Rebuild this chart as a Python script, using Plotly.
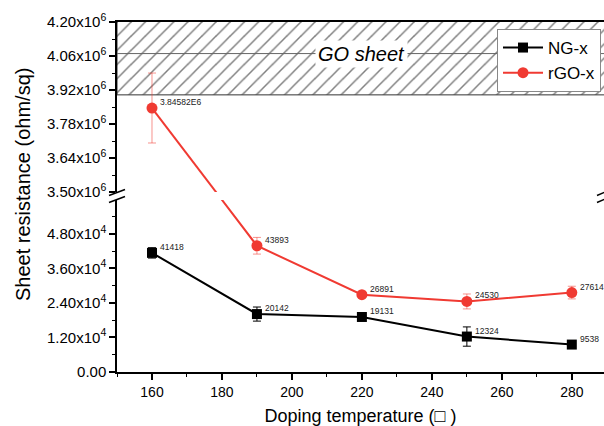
import plotly.graph_objects as go

# ---------------- data ----------------
temps = [160, 190, 220, 250, 280]
ng_vals = [41418, 20142, 19131, 12324, 9538]
ng_err = [1800, 2450, 600, 3350, 500]
rgo_vals = [3.84582e6, 43893, 26891, 24530, 27614]
rgo_err = [0.144e6, 2900, 900, 2600, 2200]
ng_labels = ["41418", "20142", "19131", "12324", "9538"]
rgo_labels = ["3.84582E6", "43893", "26891", "24530", "27614"]

go_low, go_high, go_mid = 3.9e6, 4.2e6, 4.07e6

x_ticks = [160, 180, 200, 220, 240, 260, 280]
low_ticks = [0, 12000, 24000, 36000, 48000]
low_text = ["0.00", "1.20x10<sup>4</sup>", "2.40x10<sup>4</sup>",
            "3.60x10<sup>4</sup>", "4.80x10<sup>4</sup>"]
up_ticks = [3.50e6, 3.64e6, 3.78e6, 3.92e6, 4.06e6, 4.20e6]
up_text = ["3.50x10<sup>6</sup>", "3.64x10<sup>6</sup>", "3.78x10<sup>6</sup>",
           "3.92x10<sup>6</sup>", "4.06x10<sup>6</sup>", "4.20x10<sup>6</sup>"]

# ---------------- layout geometry ----------------
W, H = 604, 426
ML, MR, MT, MB = 117, 0, 22, 54
plot_h = H - MT - MB
x_range = [150, 289.2]
low_range = [0, 59800]
up_range = [3.5e6, 4.2e6]
low_dom = [0, 172.0 / plot_h]
up_dom = [180.0 / plot_h, 1]

RED = "#F03A32"
FONT = "Liberation Sans, Arial, sans-serif"


def low_to_paper(v):
    return low_dom[0] + (v - low_range[0]) / (low_range[1] - low_range[0]) * (low_dom[1] - low_dom[0])


def up_to_paper(v):
    return up_dom[0] + (v - up_range[0]) / (up_range[1] - up_range[0]) * (up_dom[1] - up_dom[0])


def paper_to_low(p):
    return low_range[0] + (p - low_dom[0]) / (low_dom[1] - low_dom[0]) * (low_range[1] - low_range[0])


def paper_to_up(p):
    return up_range[0] + (p - up_dom[0]) / (up_dom[1] - up_dom[0]) * (up_range[1] - up_range[0])


# virtual values so the red segment crossing the break is one straight line on screen
virt_low = paper_to_low(up_to_paper(rgo_vals[0]))
virt_up = paper_to_up(low_to_paper(rgo_vals[1]))

fig = go.Figure()

# hatched GO sheet band
fig.add_trace(go.Scatter(
    x=[x_range[0], 300, 300, x_range[0], x_range[0]],
    y=[go_low, go_low, go_high + 1e5, go_high + 1e5, go_low],
    fill="toself", mode="lines", line=dict(color="#333333", width=1),
    fillcolor="white",
    fillpattern=dict(shape="/", fgcolor="black", bgcolor="white", size=10, solidity=0.15),
    xaxis="x2", yaxis="y2", showlegend=False, hoverinfo="skip"))
fig.add_trace(go.Scatter(
    x=[x_range[0], 300], y=[go_mid, go_mid], mode="lines",
    line=dict(color="#666666", width=1), xaxis="x2", yaxis="y2",
    showlegend=False, hoverinfo="skip"))

# NG-x (lower panel)
fig.add_trace(go.Scatter(
    x=temps, y=ng_vals, mode="lines+markers", name="NG-x",
    line=dict(color="black", width=2),
    marker=dict(symbol="square", size=10, color="black"),
    error_y=dict(type="data", array=ng_err, color="black", thickness=1, width=4),
    xaxis="x", yaxis="y"))

# rGO-x (lower panel, first point is virtual -> clipped)
fig.add_trace(go.Scatter(
    x=temps, y=[virt_low] + rgo_vals[1:], mode="lines+markers", name="rGO-x",
    line=dict(color=RED, width=2),
    marker=dict(symbol="circle", size=11, color=RED),
    error_y=dict(type="data", array=[0] + rgo_err[1:], color="rgba(240,58,50,0.55)",
                 thickness=1, width=4),
    xaxis="x", yaxis="y"))

# rGO-x (upper panel)
fig.add_trace(go.Scatter(
    x=temps[:2], y=[rgo_vals[0], virt_up], mode="lines+markers", name="rGO-x",
    line=dict(color=RED, width=2),
    marker=dict(symbol="circle", size=11, color=RED),
    error_y=dict(type="data", array=[rgo_err[0], 0], color="rgba(240,58,50,0.55)",
                 thickness=1, width=4),
    xaxis="x2", yaxis="y2", showlegend=False))

LABEL_FONT = dict(size=8.5, color="#222222", family=FONT)
annotations = []
for t, v, s in zip(temps, ng_vals, ng_labels):
    annotations.append(dict(x=t, y=v, xref="x", yref="y", text=s, showarrow=False,
                            xanchor="left", yanchor="middle", xshift=6, yshift=6,
                            font=LABEL_FONT))
for i, (t, v, s) in enumerate(zip(temps, rgo_vals, rgo_labels)):
    xr, yr = ("x2", "y2") if i == 0 else ("x", "y")
    annotations.append(dict(x=t, y=v, xref=xr, yref=yr, text=s, showarrow=False,
                            xanchor="left", yanchor="middle", xshift=6, yshift=6,
                            font=LABEL_FONT))

annotations.append(dict(x=(x_range[0] + 290) / 2, y=go_mid, xref="x2", yref="y2",
                        text="<i>GO sheet</i>", showarrow=False, bgcolor="white",
                        borderpad=2, font=dict(size=20, color="black", family=FONT)))
pw = W - ML - MR
annotations.append(dict(x=(23 - ML) / pw, y=(H - MB - 185) / plot_h,
                        xref="paper", yref="paper", text="Sheet resistance (ohm/sq)",
                        textangle=-90, showarrow=False, xanchor="center", yanchor="middle",
                        font=dict(size=20, color="black", family=FONT)))

# break marks
shapes = []
gap_mid = (low_dom[1] + up_dom[0]) / 2
for dy in (-3.5, 3.5):
    ym = gap_mid + dy / plot_h
    shapes.append(dict(type="line", xref="paper", yref="paper",
                       x0=-8 / pw, x1=8 / pw, y0=ym - 3 / plot_h, y1=ym + 3 / plot_h,
                       line=dict(color="black", width=1.5)))
    shapes.append(dict(type="line", xref="paper", yref="paper",
                       x0=1 - 7 / pw, x1=1 + 7 / pw, y0=ym - 3 / plot_h, y1=ym + 3 / plot_h,
                       line=dict(color="black", width=1.5)))

tickfont_y = dict(size=15, color="black", family=FONT)

fig.update_layout(
    width=W, height=H,
    margin=dict(l=ML, r=MR, t=MT, b=MB, pad=0),
    paper_bgcolor="white", plot_bgcolor="white",
    font=dict(family=FONT, color="black"),
    showlegend=True,
    legend=dict(x=(497 - ML) / pw, y=(H - MB - 29) / plot_h, xanchor="left", yanchor="top",
                bgcolor="white", bordercolor="#888888", borderwidth=1,
                font=dict(size=17, family=FONT), itemwidth=40, tracegroupgap=0),
    xaxis=dict(domain=[0, 1], range=x_range, anchor="y", automargin=False,
               tickvals=x_ticks, ticks="outside", ticklen=6, tickwidth=1.5,
               tickcolor="black", showline=True, linecolor="black", linewidth=1.5,
               showgrid=False, zeroline=False,
               minor=dict(dtick=10, tick0=150, ticks="outside", ticklen=3,
                          tickcolor="black", tickwidth=1),
               tickfont=dict(size=14, color="black", family=FONT),
               title=dict(text="Doping temperature (□ )", font=dict(size=18, family=FONT),
                          standoff=16)),
    xaxis2=dict(domain=[0, 1], range=x_range, anchor="y2", side="top",
                showticklabels=False, ticks="", showline=True, linecolor="black",
                linewidth=1.5, showgrid=False, zeroline=False),
    yaxis=dict(domain=low_dom, range=low_range, anchor="x", automargin=False,
               tickvals=low_ticks, ticktext=low_text, ticks="outside", ticklen=6,
               tickwidth=1.5, tickcolor="black", showline=True, linecolor="black",
               linewidth=1.5, showgrid=False, zeroline=False,
               minor=dict(dtick=6000, tick0=0, ticks="outside", ticklen=3,
                          tickcolor="black", tickwidth=1),
               tickfont=tickfont_y),
    yaxis2=dict(domain=up_dom, range=up_range, anchor="x2", automargin=False,
                tickvals=up_ticks, ticktext=up_text, ticks="outside", ticklen=6,
                tickwidth=1.5, tickcolor="black", showline=True, linecolor="black",
                linewidth=1.5, showgrid=False, zeroline=False,
                minor=dict(dtick=70000, tick0=3.5e6, ticks="outside", ticklen=3,
                           tickcolor="black", tickwidth=1),
                tickfont=tickfont_y),
    annotations=annotations,
    shapes=shapes,
)

fig.write_html("out.html")
